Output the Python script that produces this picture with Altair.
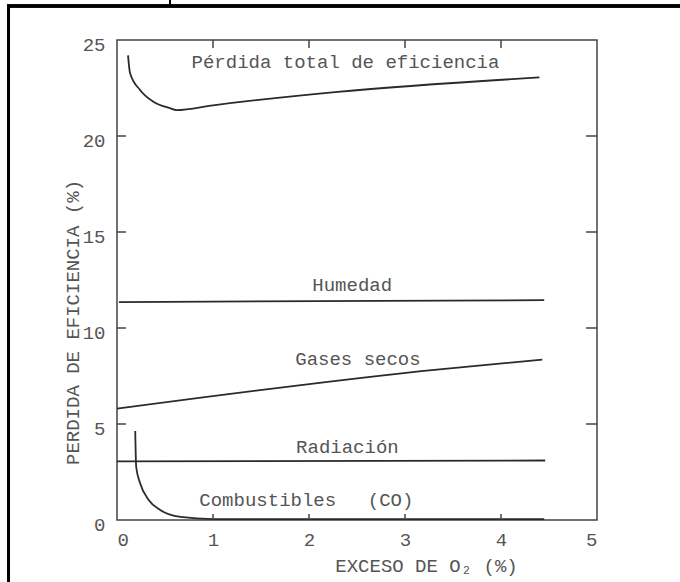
import altair as alt
import pandas as pd

# Axis ticks
x_ticks = [0, 1, 2, 3, 4, 5]
y_ticks = [0, 5, 10, 15, 20, 25]
x_inner_ticks = [1, 2, 3, 4]
y_inner_ticks = [5, 10, 15, 20]

# Curves: excess O2 (%) vs efficiency loss (%)
total_x = [0.115, 0.135, 0.24, 0.375, 0.55, 0.62, 1.0, 2.3, 4.4]
total_y = [24.2, 23.3, 22.4, 21.8, 21.45, 21.35, 21.6, 22.3, 23.05]
humedad_x = [0.02, 4.45]
humedad_y = [11.35, 11.45]
gases_x = [0.0, 3.36, 4.43]
gases_y = [5.8, 7.85, 8.35]
rad_x = [0.0, 4.46]
rad_y = [3.05, 3.1]
co_x = [0.19, 0.2, 0.24, 0.33, 0.45, 0.66, 1.0, 4.45]
co_y = [4.64, 2.76, 1.93, 1.04, 0.52, 0.16, 0.05, 0.05]

# Curve labels
label_text = ["Pérdida total de eficiencia", "Humedad", "Gases secos",
              "Radiación", "Combustibles", "(CO)"]
label_x = [2.38, 2.45, 2.51, 2.4, 1.57, 2.85]
label_y = [23.85, 12.24, 8.39, 3.8, 1.04, 1.04]

series = []
for name, xs, ys in [("total", total_x, total_y), ("humedad", humedad_x, humedad_y),
                     ("gases", gases_x, gases_y), ("radiacion", rad_x, rad_y),
                     ("co", co_x, co_y)]:
    for a, b in zip(xs, ys):
        series.append({"serie": name, "x": a, "y": b})
lines_df = pd.DataFrame(series)
labels_df = pd.DataFrame({"t": label_text, "x": label_x, "y": label_y})

FONT = "Liberation Mono"
INK = "#2a2a2a"
TXT = "#555555"

x_scale = alt.Scale(domain=[0, 5], nice=False, zero=False)
y_scale = alt.Scale(domain=[0, 25], nice=False, zero=False)

x_axis = alt.Axis(values=x_ticks, tickSize=0, domain=False, grid=False,
                  labelPadding=10, labelFontSize=19, labelFont=FONT,
                  labelColor=TXT, labelBaseline="top",
                  title="EXCESO DE O₂ (%)", titleFont=FONT, titleFontSize=19,
                  titleFontWeight="normal", titleColor=TXT,
                  titleX=309, titleY=45, titleAlign="center",
                  titleBaseline="middle", titleAnchor="start")
y_axis = alt.Axis(values=y_ticks, tickSize=0, domain=False, grid=False,
                  labelPadding=12, labelFontSize=19, labelFont=FONT,
                  labelColor=TXT, labelOffset=4,
                  title="PERDIDA DE EFICIENCIA (%)", titleFont=FONT,
                  titleFontSize=19, titleFontWeight="normal", titleColor=TXT,
                  titleAngle=270, titleX=-45, titleY=282, titleAlign="center",
                  titleBaseline="middle", titleAnchor="start")


def X(field):
    return alt.X(field, type="quantitative", scale=x_scale, axis=x_axis)


def Y(field):
    return alt.Y(field, type="quantitative", scale=y_scale, axis=y_axis)


lines = alt.Chart(lines_df).mark_line(
    interpolate="monotone", color=INK, strokeWidth=1.8
).encode(x=X("x"), y=Y("y"), detail="serie:N")

labels = alt.Chart(labels_df).mark_text(
    font=FONT, fontSize=19, color=TXT, align="center", baseline="middle"
).encode(x=X("x"), y=Y("y"), text="t:N")

# Inward ticks on all four sides of the frame
xt_df = pd.DataFrame({"v": x_inner_ticks})
yt_df = pd.DataFrame({"v": y_inner_ticks})
tick_style = dict(color="#444444", strokeWidth=1.5)
top_ticks = alt.Chart(xt_df).mark_rule(**tick_style).encode(
    x=X("v"), y=alt.value(0), y2=alt.value(8))
bottom_ticks = alt.Chart(xt_df).mark_rule(**tick_style).encode(
    x=X("v"), y=alt.value(474), y2=alt.value(480))
left_ticks = alt.Chart(yt_df).mark_rule(**tick_style).encode(
    y=Y("v"), x=alt.value(0), x2=alt.value(9))
right_ticks = alt.Chart(yt_df).mark_rule(**tick_style).encode(
    y=Y("v"), x=alt.value(469), x2=alt.value(480))

# Page border (left and top edges) and cell divider
border_left = alt.Chart(xt_df).mark_rule(color="black", strokeWidth=3).encode(
    x=alt.value(-108.5), y=alt.value(-35), y2=alt.value(545))
border_top = alt.Chart(xt_df).mark_rule(color="black", strokeWidth=3).encode(
    y=alt.value(-34), x=alt.value(-110), x2=alt.value(565))
divider = alt.Chart(xt_df).mark_rule(color="black", strokeWidth=2).encode(
    x=alt.value(53), y=alt.value(-42), y2=alt.value(-34))

chart = alt.layer(
    lines, labels, top_ticks, bottom_ticks, left_ticks, right_ticks,
    border_left, border_top, divider
).properties(
    width=480, height=480,
    autosize=alt.AutoSizeParams(type="none"),
    padding={"left": 117, "top": 40, "right": 83, "bottom": 62},
    background="white",
).configure_view(
    stroke="#444444", strokeWidth=1.5
)

chart.save("out.html", embed_options={"renderer": "svg", "actions": False})
